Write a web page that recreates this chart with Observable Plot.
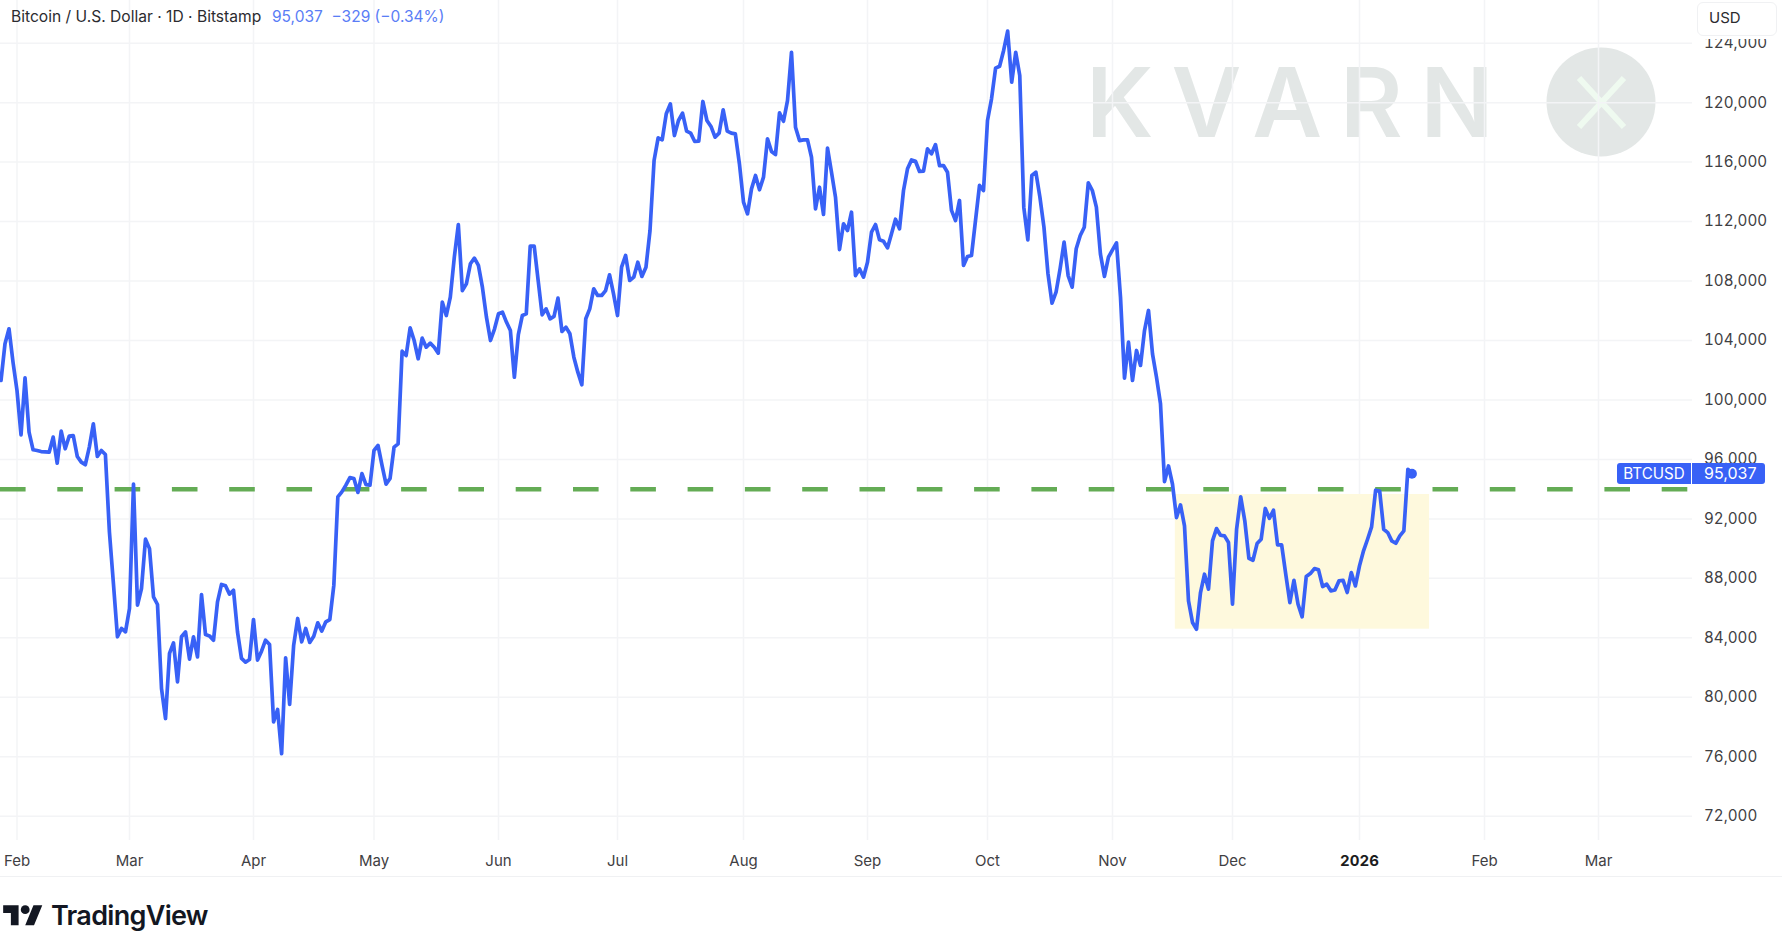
<!DOCTYPE html>
<html>
<head>
<meta charset="utf-8">
<script src="https://cdn.jsdelivr.net/npm/d3@7"></script>
<script src="https://cdn.jsdelivr.net/npm/@observablehq/plot@0.6"></script>
<style>
html,body{margin:0;padding:0;background:#fff;width:1782px;height:938px;overflow:hidden;font-family:Inter,sans-serif}
#wrap{position:relative;width:1782px;height:938px}
#chart{position:absolute;left:0;top:0;z-index:1}
#chart svg{background:transparent;display:block}
.o{position:absolute;white-space:nowrap;z-index:2}
#mark{position:absolute;left:1086px;top:30px;z-index:0;font-size:96px;line-height:144px;font-weight:600;letter-spacing:18px;color:#e3e7e6}
#disc{position:absolute;left:1546px;top:47px;z-index:0}
</style>
</head>
<body>
<div id="wrap">
  <div id="mark">KVARN</div>
  <svg id="disc" width="110" height="110" viewBox="0 0 110 110"><circle cx="55" cy="55" r="54.5" fill="#e3e7e6"/><path d="M33 31 L78 80 M78 31 L33 80" stroke="#effaf0" stroke-width="6" fill="none"/></svg>
  <div id="chart"></div>
  <div class="o" style="left:11px;top:8px;font-size:15.6px;line-height:18px;color:#2b2b2f">Bitcoin / U.S. Dollar · 1D · Bitstamp</div>
  <div class="o" style="left:272px;top:8px;font-size:15.5px;line-height:18px;color:#5a7df6;white-space:pre">95,037  −329 (−0.34%)</div>
  <div class="o" style="left:1695px;top:0;width:87px;height:38.5px;background:#fff"></div>
  <div class="o" style="left:1697px;top:2px;width:78px;height:32px;background:#fff;border:1px solid #f0f1f3;border-radius:6px;box-sizing:content-box"></div>
  <div class="o" style="left:1709px;top:9px;font-size:15px;line-height:18px;color:#2b2b2f">USD</div>
  <div class="o" style="left:1617px;top:463px;width:74px;height:21px;background:#3861f6;border-radius:3px 0 0 3px;color:#fff;font-size:15.2px;line-height:21px;text-align:center">BTCUSD</div>
  <div class="o" style="left:1692px;top:463px;width:61px;height:21px;padding-left:12px;background:#3861f6;border-radius:0 3px 3px 0;color:#fff;font-size:16px;line-height:21px">95,037</div>
  <div class="o" style="left:0;top:876px;width:1782px;height:1px;background:#f0f1f3"></div>
  <svg class="o" style="left:3px;top:902px" width="40" height="27" viewBox="0 0 36 24.5"><path fill="#131722" d="M14 21H7V10H0V3h14v18zM28 21h-8l7.5-18h8L28 21z"/><circle fill="#131722" cx="20" cy="7" r="4"/></svg>
  <div class="o" style="left:51px;top:900px;font-size:27px;line-height:32px;font-weight:600;letter-spacing:-0.7px;color:#131722">TradingView</div>
</div>
<script>
// Daily closes, one list per month
const jan25 = [101311,103777,104786,102544];
const feb25 = [100638,97656,101490,97836,96648,96600,96530,96510,96490,97500,95750,97900,96715,97570,97610,96200,95820,95640,96830,98400,96200,96600,96330,91130,87650,84070,84630,84400];
const mar25 = [85970,94340,86200,87320,90640,90000,86760,86240,80590,78570,82950,83660,81040,84070,84400,82570,84070,82720,86910,84220,84130,83840,86420,87590,87500,86940,87200,84400,82610,82360,82540];
const apr25 = [85230,82500,83100,83840,83550,78350,79180,76200,82650,79520,83500,85300,83730,84630,83690,84110,85010,84450,85080,85230,87540,93480,93820,94270,94780,94720,93780,95050,94310,94270];
const may25 = [96600,96940,95600,94340,94720,96830,97050,103280,102990,104850,104000,102770,104160,103550,103820,103550,103150,106580,105680,106920,109610,111800,107360,107810,109160,109540,109050,107570,105570,104000,104770];
const jun25 = [105800,105910,105240,104670,101530,104400,105680,105790,110350,110350,108030,105730,106130,105460,105620,106850,104610,104900,104450,102880,101870,101020,105460,106130,107480,107030,107030,107360,108420,107140];
const jul25 = [105680,108930,109720,108040,108260,109270,108310,108930,111400,116110,117630,117500,119250,119920,117790,118800,119290,118080,117950,117390,117410,120080,118800,118400,117680,117950,119520,118080,117950,117900,115880];
const aug25 = [113310,112520,114200,115100,114140,114990,117570,116710,116510,119310,118750,120140,123390,118350,117450,117500,117500,116330,112860,114310,112480,116940,115320,113640,110120,111850,111400,112630,108370,108820,108260];
const sep25 = [109270,111290,111800,110770,110680,110230,111180,112160,111510,114090,115550,116150,116060,115370,115390,116890,116560,117180,115770,115770,115320,112750,112070,113420,109050,109650,109720,112070,114430,114090];
const oct25 = [118800,120260,122320,122450,123510,124810,121380,123390,121830,112970,110770,115100,115320,113640,111620,108490,106510,107250,108820,110620,108370,107590,110170,111060,111620,114610,114090,112970,109830,108310,109610];
const nov25 = [110100,110570,106920,101470,103890,101310,103330,102320,104670,106020,103100,101530,99740,94510,95560,94330,92090,92940,91530,86480,85030,84580,87045,88280,87270,90520,91350,90900,90860,90410];
const dec25 = [86260,91300,93480,91870,89350,89220,90340,90630,92700,92040,92580,90250,90250,88280,86370,87870,86260,85410,88120,88320,88660,88570,87450,87610,87160,87220,87830,87870,87050,88390,87490];
const jan26 = [88840,89850,90630,91460,93930,93880,91300,91080,90520,90360,90860,91190,95340,95037];

const firstDay = new Date(Date.UTC(2025, 0, 28));
const closes = [...jan25,...feb25,...mar25,...apr25,...may25,...jun25,...jul25,...aug25,...sep25,...oct25,...nov25,...dec25,...jan26];
const series = closes.map((close, i) => ({date: d3.utcDay.offset(firstDay, i), close}));
const lastPoint = series[series.length - 1];

const priceTicks = [72000,76000,80000,84000,88000,92000,96000,100000,104000,108000,112000,116000,120000,124000];
const monthTicks = ["2025-02-01","2025-03-01","2025-04-01","2025-05-01","2025-06-01","2025-07-01","2025-08-01","2025-09-01","2025-10-01","2025-11-01","2025-12-01","2026-02-01","2026-03-01"].map(d => new Date(d));
const yearTick = [new Date("2026-01-01")];
const allMonths = [...monthTicks, ...yearTick];
const level = [94000];
const zone = [{x1: new Date("2025-11-16T17:00Z"), x2: new Date("2026-01-18T09:00Z"), y1: 84579, y2: 93640}];

const chart = Plot.plot({
  width: 1782, height: 938,
  marginLeft: 0, marginRight: 90, marginTop: 0, marginBottom: 98,
  style: {background: "transparent", fontFamily: "Inter, sans-serif", fontSize: "15px", color: "#3f4043"},
  x: {type: "utc",
      domain: ["2025-01-28","2025-02-01","2025-03-01","2025-04-01","2025-05-01","2025-06-01","2025-07-01","2025-08-01","2025-09-01","2025-10-01","2025-11-01","2025-12-01","2026-01-01","2026-02-01","2026-03-01","2026-03-24"].map(d => new Date(d)),
      range: [0.5,16.5,129,253,373.5,498,617,743,867,987,1112,1232,1359,1484,1598,1692]},
  y: {domain: [72000, 124000], range: [815.7, 42.7]},
  marks: [
    Plot.ruleX(allMonths, {stroke: "#f3f4f6", strokeWidth: 1.5}),
    Plot.ruleY(priceTicks, {stroke: "#f3f4f6", strokeWidth: 1.5}),
    Plot.rect(zone, {x1: "x1", x2: "x2", y1: "y1", y2: "y2", fill: "#fef9dd"}),
    Plot.ruleY(level, {stroke: "#64ac55", strokeWidth: 4.5, strokeDasharray: "25.6 31.7"}),
    Plot.line(series, {x: "date", y: "close", stroke: "#3861f6", strokeWidth: 3.7, strokeLinejoin: "round", strokeLinecap: "round"}),
    Plot.dot([lastPoint], {x: "date", y: "close", r: 5, fill: "#3861f6"}),
    Plot.axisY({anchor: "right", ticks: priceTicks, tickSize: 0, tickPadding: 11.5, textAnchor: "start", label: null, tickFormat: d3.format(","), fontSize: 15.2, fill: "#3f4043"}),
    Plot.axisX({anchor: "bottom", ticks: monthTicks, tickSize: 0, tickPadding: 15, label: null, tickFormat: d3.utcFormat("%b"), fontSize: 15, fill: "#3f4043"}),
    Plot.axisX({anchor: "bottom", ticks: yearTick, tickSize: 0, tickPadding: 15, label: null, tickFormat: d3.utcFormat("%Y"), fontSize: 15, fontWeight: 700, fill: "#1c1c20"})
  ]
});
document.getElementById("chart").append(chart);
</script>
</body>
</html>
